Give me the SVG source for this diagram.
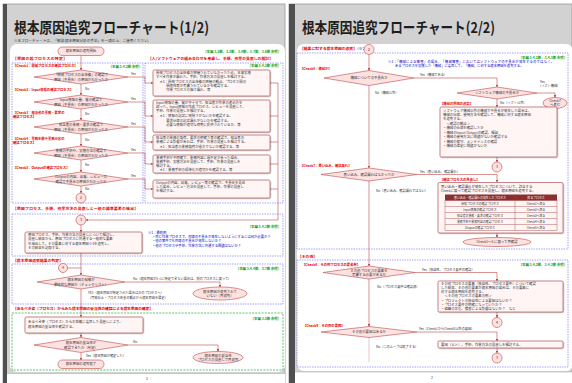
<svg xmlns="http://www.w3.org/2000/svg" width="572" height="383" viewBox="0 0 572 383">
<defs>
<marker id="a" viewBox="0 0 6 6" refX="5.5" refY="3" markerWidth="2.6" markerHeight="2.6" markerUnits="userSpaceOnUse" orient="auto"><path d="M0,0L6,3L0,6z" fill="#c04848"/></marker>
<filter id="sh" x="-5%" y="-5%" width="115%" height="130%"><feDropShadow dx="0.8" dy="0.8" stdDeviation="0.5" flood-color="#000" flood-opacity="0.25"/></filter>
</defs>
<style>
text{font-family:"Noto Sans CJK JP","Noto Sans",sans-serif;}
.ttl{font-size:15px;font-weight:bold;fill:#1e1e1e}
.sub{font-size:3.6px;fill:#333}
.s{font-size:3.4px;fill:#333}
.c{text-anchor:middle}
.red{font-size:3.8px;font-weight:bold;fill:#e60000}
.chk{font-size:3.3px;font-weight:bold;fill:#e60000}
.grn{font-size:3.4px;font-weight:bold;fill:#10a010;text-anchor:end}
.blu{font-size:3.3px;fill:#0000d0}
.lb{font-size:3.2px;fill:#333}
.tb{font-size:2.9px;fill:#333;text-anchor:middle}
.box{fill:none;stroke:#7373ff;stroke-width:0.7;stroke-dasharray:1.4 1.1}
.gbox{fill:none;stroke:#30b040;stroke-width:0.8;stroke-dasharray:2 1.2}
.dia{fill:#fde2e2;stroke:#c04848;stroke-width:0.6}
.rb{fill:#fff5f5;stroke:#a03a3a;stroke-width:0.6;filter:url(#sh)}
.cir{fill:#fde2e2;stroke:#c04848;stroke-width:0.6}
.ln{fill:none;stroke:#c04848;stroke-width:0.6}
.ar{marker-end:url(#a)}
.tl{fill:none;stroke:#a03a3a;stroke-width:0.4}
</style>

<!-- page frames -->
<rect x="0" y="0" width="572" height="383" fill="#ffffff"/>
<g id="page1">
<rect x="3" y="4" width="282" height="379" fill="#d2d2d2" stroke="#9a9a9a" stroke-width="0.8"/>
<rect x="3" y="4" width="4" height="379" fill="#505050"/>
<rect x="10" y="44" width="275" height="328" rx="7" fill="#ffffff"/>
<rect x="7" y="373.5" width="278" height="9.5" fill="#ffffff"/>
<line x1="7" y1="373.5" x2="285" y2="373.5" stroke="#b0b0b0" stroke-width="0.6"/>
<text x="14" y="33" class="ttl" textLength="195" lengthAdjust="spacingAndGlyphs">根本原因追究フローチャート(1/2)</text>
<text x="14" y="42" class="sub">※本フローチャートは、「解説 根本原因分析の手法」を一読の上、ご使用ください。</text>
<text x="147" y="380" class="sub c">1</text>
</g>
<g id="page2">
<rect x="289" y="4" width="283" height="379" fill="#d2d2d2" stroke="#9a9a9a" stroke-width="0.8"/>
<rect x="289" y="4" width="6" height="379" fill="#505050"/>
<rect x="297" y="44" width="276" height="327" rx="7" fill="#ffffff"/>
<rect x="295" y="372" width="277" height="11" fill="#ffffff"/>
<line x1="295" y1="372" x2="572" y2="372" stroke="#b0b0b0" stroke-width="0.6"/>
<text x="302" y="33" class="ttl" textLength="193" lengthAdjust="spacingAndGlyphs">根本原因追究フローチャート(2/2)</text>
<text x="432" y="379" class="sub c">2</text>
</g>

<!-- section frames page 1 -->
<g id="sections1">
<text x="279" y="53" class="grn">[本編 3.2節、3.3節、3.4節、3.7節、3.8節 参照]</text>
<text x="13" y="60" class="red" textLength="54">【原因の起プロセスの特定】</text>
<text x="148" y="60" class="red" textLength="125">【人/ソフトウェアの組み合わせを考慮し、手順、作業の見直しの検討】</text>
<rect x="12" y="63" width="131" height="140" class="box"/>
<rect x="145" y="63" width="138" height="140" class="box"/>
<text x="140" y="68" class="grn">[本編 3.4.2節 参照]</text>
<text x="279" y="67" class="grn">[本編 3.4.2節 参照]</text>
<text x="13" y="209.5" class="red" textLength="125">【原因プロセス、手順、作業方法の見直しと一般の標準要素の抽出】</text>
<rect x="12" y="214" width="271" height="42" class="box"/>
<text x="279" y="228" class="grn">[本編 3.4.3節 参照]</text>
<text x="13" y="261.5" class="red" textLength="50">【根本原因追究結果の判定】</text>
<rect x="12" y="264" width="271" height="40" class="box"/>
<text x="279" y="269.5" class="grn">[本編 3.4.4節、3.7節 参照]</text>
<text x="13" y="310" class="red" textLength="140">【あるべき姿（プロセス）からみた根本原因の妥当性の確認による根本原因の確定】</text>
<rect x="12" y="313" width="271" height="57" class="gbox"/>
<text x="279" y="320" class="grn">[本編 3.5節 参照]</text>
</g>

<!-- connectors -->
<g id="connectors">
<path class="ln ar" d="M81,55.5V70"/>
<path class="ln ar" d="M81,84V95"/>
<path class="ln ar" d="M81,109V120"/>
<path class="ln ar" d="M81,134V146"/>
<path class="ln ar" d="M81,160V172"/>
<path class="ln ar" d="M81,186V193"/>
<path class="ln ar" d="M128,77H145V83H153"/>
<path class="ln ar" d="M128,102H145V116H153"/>
<path class="ln ar" d="M128,127H145V142H153"/>
<path class="ln ar" d="M128,153H145V164H153"/>
<path class="ln ar" d="M128,179H145V189H153"/>
<path class="ln" d="M270,83H278M270,116H278M270,142H278M270,164H278M270,189H278"/>
<path class="ln ar" d="M278,83V220H86"/>
<path class="ln ar" d="M81,225V232"/>
<path class="ln ar" d="M81,253V275"/>
<path class="ln" d="M67.5,268H81"/>
<path class="ln ar" d="M125,282H220V287"/>
<path class="ln ar" d="M81,289V317"/>
<path class="ln ar" d="M81,333V337.5"/>
<path class="ln ar" d="M128,345H218V351.5"/>
<path class="ln ar" d="M81,352.5V360"/>
<!-- page 2 -->
<path class="ln ar" d="M369,54.5V70.5"/>
<path class="ln ar" d="M414,78H497V87"/>
<path class="ln ar" d="M537,93H555V97.5"/>
<path class="ln ar" d="M497,99V107"/>
<path class="ln ar" d="M497,157V162"/>
<path class="ln ar" d="M369,85.5V168"/>
<path class="ln ar" d="M417,174.5H497V182"/>
<path class="ln ar" d="M497,233V237.5"/>
<path class="ln ar" d="M369,181V266"/>
<path class="ln ar" d="M415,272.5H497V281"/>
<path class="ln ar" d="M497,312V317.5"/>
<path class="ln ar" d="M369,279V326.5"/>
<path class="ln ar" d="M417,332H497V341"/>
<path class="ln ar" d="M497,348V353"/>
<path class="ln" d="M369,337.5V362" stroke-dasharray="1 1"/>
</g>

<!-- connector labels page 1 -->
<g id="labels1">
<text x="131" y="75" class="lb">Yes</text>
<text x="131" y="100" class="lb">Yes</text>
<text x="131" y="125" class="lb">Yes</text>
<text x="131" y="151" class="lb">Yes</text>
<text x="131" y="177" class="lb">Yes</text>
<text x="85" y="90" class="lb">No</text>
<text x="85" y="115" class="lb">No</text>
<text x="85" y="141" class="lb">No</text>
<text x="85" y="166" class="lb">No</text>
<text x="85" y="190" class="lb">No</text>
<text x="133" y="279.5" class="lb">No（根本原因が1つに特定できない場合は、前のプロセスに戻って）</text>
<text x="88" y="294" class="lb">YES（根本原因が特定された場合は次のプロセスへ）</text>
<text x="88" y="298.5" class="lb">（再発防止・プロセス改善の観点から根本原因を選定）</text>
<text x="133" y="343" class="lb">No</text>
<text x="86" y="357" class="lb">Yes（根本原因が確定した）</text>
</g>

<!-- page 1 nodes -->
<g id="start"><rect x="58" y="47" width="46" height="8.5" rx="4.2" class="cir"/><text x="81" y="52.4" class="s c">根本原因の追究開始</text></g>

<g id="check1"><text x="13" y="67" class="chk">【Check1：開発プロセスの確認プロセス】</text>
<polygon points="34,77 81,70 128,77 81,84" class="dia"/><text x="81" y="76.3" class="s c">「開発プロセスの全体像」の確認で</text><text x="81" y="80.5" class="s c">原因（不具合）の原因がわかったか</text></g>

<g id="check2"><text x="13" y="91" class="chk">【Check2：Input情報の確認プロセス】</text>
<polygon points="34,102 81,95 128,102 81,109" class="dia"/><text x="81" y="101.3" class="s c">Input情報の量、質の確認で</text><text x="81" y="105.5" class="s c">原因（不具合）の原因がわかったか</text></g>

<g id="check3"><text x="13" y="114" class="chk">【Check3：担当者の業務・要求の</text><text x="13" y="118" class="chk">確認プロセス】</text>
<polygon points="34,127 81,120 128,127 81,134" class="dia"/><text x="81" y="126.3" class="s c">担当者の業務・要求の確認で</text><text x="81" y="130.5" class="s c">原因（不具合）の原因がわかったか</text></g>

<g id="check4"><text x="13" y="140" class="chk">【Check4：業務手順や業務内容の</text><text x="13" y="144" class="chk">確認プロセス】</text>
<polygon points="34,153 81,146 128,153 81,160" class="dia"/><text x="81" y="152.3" class="s c">業務の手順や、実施方法の確認で</text><text x="81" y="156.5" class="s c">原因（不具合）の原因がわかったか</text></g>

<g id="check5"><text x="13" y="169" class="chk">【Check5：Outputの確認プロセス】</text>
<polygon points="34,179 81,172 128,179 81,186" class="dia"/><text x="81" y="178.3" class="s c">Outputの内容、品質、レビューの</text><text x="81" y="182.5" class="s c">確認で不具合の原因がわかったか</text></g>

<g id="conn2a"><circle cx="81" cy="198" r="5" class="cir"/><text x="81" y="199.4" class="s c">2</text></g>

<g id="rect1"><rect x="153" y="70" width="117" height="26" rx="1.5" class="rb"/>
<text x="156" y="74" class="s">開発プロセスの全体像が把握されていなかったため、本来実施</text>
<text x="156" y="78" class="s">すべき作業が漏れた。手順、作業方法の見直しを検討する。</text>
<text x="156" y="83" class="s">　＊1：開発プロセスの全体像の把握の観点、プロセス間の</text>
<text x="156" y="87" class="s">　　　関連性等が考慮されているかを確認する。</text>
<text x="156" y="91" class="s">　　　作業プロセスの抜け漏れ、等</text></g>

<g id="rect2"><rect x="153" y="100" width="117" height="32" rx="1.5" class="rb"/>
<text x="156" y="104" class="s">Input情報の量、質が不十分で、担当者が作業の進め方を</text>
<text x="156" y="108" class="s">誤った。Input情報の作成プロセス、レビューを見直して、</text>
<text x="156" y="112" class="s">手順、作業の見直しを検討する。</text>
<text x="156" y="117" class="s">　＊1：情報の記述に曖昧さがないかを確認する。</text>
<text x="156" y="121.5" class="s">　　　要求仕様の記述漏れがないかを確認する。</text>
<text x="156" y="126" class="s">　　　必要な情報が適切な時期に提供されているか、等</text></g>

<g id="rect3"><rect x="153" y="135" width="117" height="15" rx="1.5" class="rb"/>
<text x="156" y="139" class="s">担当者の業務の負荷、要求の明確さ等の確認で、担当者の</text>
<text x="156" y="143" class="s">業務による影響があれば、手順、作業の見直しを検討する。</text>
<text x="156" y="147.5" class="s">　＊1：担当者の業務負荷が過大でないか確認する、等</text></g>

<g id="rect4"><rect x="153" y="155" width="117" height="18" rx="1.5" class="rb"/>
<text x="156" y="159" class="s">業務手順が不明確で、業務内容に過不足があった場合、</text>
<text x="156" y="163" class="s">業務手順、実施方法を見直して、手順、作業の見直しを</text>
<text x="156" y="167" class="s">検討する。</text>
<text x="156" y="171" class="s">　＊1：業務手順の標準化が適切かを確認する、等</text></g>

<g id="rect5"><rect x="153" y="180" width="117" height="18" rx="1.5" class="rb"/>
<text x="156" y="184" class="s">Outputの内容、品質、レビュー等の確認で、不具合を見逃</text>
<text x="156" y="188" class="s">した場合、レビュー方法を見直して、手順、作業の見直し</text>
<text x="156" y="192" class="s">を検討する。</text></g>

<g id="conn3a"><circle cx="81" cy="220" r="5" class="cir"/><text x="81" y="221.4" class="s c">3</text></g>

<g id="review"><rect x="25" y="232" width="117" height="21" rx="1.5" class="rb"/>
<text x="28" y="236" class="s">原因プロセス、手順、作業方法の見直しについて検討し、</text>
<text x="28" y="240.3" class="s">見直し結果から、原因プロセスに共通する一般的な要素</text>
<text x="28" y="244.6" class="s">を抽出して、その要素に対する根本原因<tspan fill="#0000d0">※1</tspan>を追究し、</text>
<text x="28" y="249" class="s">その結果を記録する。</text></g>

<g id="note1"><text x="148" y="233.5" class="blu">※1：最終例</text>
<text x="152" y="238" class="blu">・同じ作業プロセスで、同様の不具合が発生しないようにするには何が必要か？</text>
<text x="152" y="242.3" class="blu">・他の案件でも同様の不具合が発生しないか？</text>
<text x="152" y="246.6" class="blu">・他のプロセスや手順、作業方法に共通する問題はないか？</text></g>

<g id="conn4a"><circle cx="63" cy="268" r="4.5" class="cir"/><text x="63" y="269.3" class="s c">4</text></g>

<g id="judge"><polygon points="37,282 81,275 125,282 81,289" class="dia"/><text x="81" y="281.3" class="s c">根本原因の候補が</text><text x="81" y="285.5" class="s c">最終的な原因か（チェックリスト）</text></g>

<g id="notfound"><ellipse cx="220" cy="293.5" rx="27" ry="6.5" class="cir"/><text x="220" y="292.5" class="s c">根本原因が追究されて</text><text x="220" y="296.7" class="s c">いない（再追究）</text></g>

<g id="ideal"><rect x="25" y="317" width="118" height="16" rx="1.5" class="rb"/>
<text x="28" y="323" class="s">あるべき姿（プロセス）からの乖離に着目した見直しにより、</text>
<text x="28" y="327.5" class="s">根本原因の妥当性を確認する。</text></g>

<g id="valid"><polygon points="34,345 81,337.5 128,345 81,352.5" class="dia"/><text x="81" y="344.3" class="s c">根本原因の妥当性が</text><text x="81" y="348.5" class="s c">確認できたか（判定）</text></g>

<g id="retry"><ellipse cx="218" cy="357.5" rx="25" ry="6" class="cir"/><text x="218" y="356.5" class="s c">根本原因の妥当性</text><text x="218" y="360.7" class="s c">プロセスの見直しで再追究</text></g>

<g id="end"><rect x="58" y="360" width="46" height="8.5" rx="4.2" class="cir"/><text x="81" y="365.4" class="s c">根本原因の追究終了</text></g>

<!-- page 2 sections -->
<g id="sections2">
<text x="300" y="49.5" class="red">【結果に対する根本原因の追究】<tspan fill="#0000d0" font-weight="normal">（※2）</tspan></text>
<rect x="297" y="53" width="271" height="196" class="box"/>
<text x="565" y="59" class="grn">[本編 3.4.2節、3.4.3節 参照]</text>
<text x="388" y="62.5" class="blu" textLength="166">※2：「機械による障害」の場合、「機械障害」においてはソフトウェアの不具合が発生するのではなく、</text>
<text x="395" y="67" class="blu">あるプロセスを実施した「機械」に着目して、「機械」に対する根本原因を追究する。</text>
<text x="298" y="257.5" class="red">【その他】</text>
<rect x="297" y="260" width="271" height="107" class="box"/>
<text x="565" y="266" class="grn">[本編 3.4.2節、3.4.3節 参照]</text>
</g>

<g id="labels2">
<text x="420" y="76" class="lb">Yes（機械である）</text>
<text x="375" y="93.5" class="lb">No（機械以外）</text>
<text x="540" y="83" class="lb">Yes</text>
<text x="538" y="87.3" class="lb">（ソフト機械）</text>
<text x="500" y="104" class="lb">No（ソフト以外）</text>
<text x="420" y="172.5" class="lb">Yes（思い込み、確認漏れ）</text>
<text x="376" y="191.5" class="lb">No（思い込み、確認漏れではない）</text>
<text x="422" y="270.5" class="lb">Yes（独自性、プロセス要件の確認）</text>
<text x="377" y="288" class="lb">No（プロセス要件は確認済）</text>
<text x="419" y="330" class="lb">Yes（Check1からCheck8以外の要因）</text>
<text x="376" y="348" class="lb">No（このループは終了する）</text>
</g>

<g id="conn2b"><circle cx="369" cy="49.5" r="5" class="cir"/><text x="369" y="50.9" class="s c">2</text></g>

<g id="check6"><text x="300" y="69.5" class="chk">【Check6：機械か】</text>
<polygon points="324,78 369,70.5 414,78 369,85.5" class="dia"/><text x="369" y="79.2" class="s c">機械についての不具合か</text></g>

<g id="check6b"><polygon points="457,93 497,87 537,93 497,99" class="dia"/><text x="497" y="94.2" class="s c">ソフトウェア機械の不具合か</text></g>

<g id="toCheck7"><ellipse cx="555" cy="103" rx="12" ry="5.5" class="cir"/><text x="555" y="102" class="s c">Check7</text><text x="555" y="106" class="s c">へ進む</text></g>

<g id="machine"><text x="440" y="104.5" class="chk">【機械の原因の追究】</text>
<rect x="440" y="107" width="117" height="50" rx="1.5" class="rb"/>
<text x="443" y="111.5" class="s">ソフトウェア機械以外の機械で不具合が発生した場合は、</text>
<text x="443" y="115.5" class="s">機械の仕様、使用方法を確認して、機械に対する根本原因</text>
<text x="443" y="119.5" class="s">を追究する。</text>
<text x="443" y="124.5" class="s">　＜確認の観点＞</text>
<text x="443" y="129" class="s">・機械の仕様を確認したか</text>
<text x="443" y="133.5" class="s">・機械のInput/Outputの確認、検証</text>
<text x="443" y="138" class="s">・機械の使用方法に問題がないか確認する</text>
<text x="443" y="142.5" class="s">・機械の保守、メンテナンスの確認</text>
<text x="443" y="147" class="s">・機械の選定に問題がないか</text></g>

<g id="conn3b"><circle cx="497" cy="167" r="5" class="cir"/><text x="497" y="168.4" class="s c">3</text></g>

<g id="check7"><text x="300" y="166.5" class="chk">【Check7：思い込み、確認漏れ】</text>
<polygon points="321,174.5 369,168 417,174.5 369,181" class="dia"/><text x="369" y="175.7" class="s c">思い込み、確認漏れはなかったか</text></g>

<g id="confirm"><text x="440" y="181" class="chk">【確認プロセスの見直し】</text>
<rect x="438" y="182.5" width="125" height="50.5" rx="1.5" class="rb"/>
<text x="441" y="187.5" class="s">思い込み・確認漏れが発生したプロセスについて、該当する</text>
<text x="441" y="191.5" class="s">Checkに戻って確認プロセスを見直し、根本原因を追究する。</text>
<rect x="445" y="194.5" width="112" height="6" fill="#8b2e2e"/>
<rect x="445" y="200.5" width="112" height="30" fill="#ffffff" class="tl"/>
<path class="tl" d="M445,206.5H557M445,212.5H557M445,218.5H557M445,224.5H557M515,194.5V230.5"/>
<text x="480" y="198.6" class="tb" fill="#fff" style="fill:#fff">思い込み・確認漏れの発生したプロセス</text>
<text x="536" y="198.6" class="tb" style="fill:#fff">戻るプロセス</text>
<text x="480" y="204.6" class="tb">開発プロセスの確認プロセス</text><text x="536" y="204.6" class="tb">Check1へ戻る</text>
<text x="480" y="210.6" class="tb">Input情報の確認プロセス</text><text x="536" y="210.6" class="tb">Check2へ戻る</text>
<text x="480" y="216.6" class="tb">担当者の業務・要求の確認プロセス</text><text x="536" y="216.6" class="tb">Check3へ戻る</text>
<text x="480" y="222.6" class="tb">業務手順や業務内容の確認プロセス</text><text x="536" y="222.6" class="tb">Check4へ戻る</text>
<text x="480" y="228.6" class="tb">Outputの確認プロセス</text><text x="536" y="228.6" class="tb">Check5へ戻る</text></g>

<g id="back"><ellipse cx="497" cy="242" rx="34" ry="4.5" class="cir"/><text x="497" y="243.2" class="s c">Check1～5 に戻って再確認</text></g>

<g id="check8"><text x="302" y="266" class="chk">【Check8：その他プロセスの要素有】</text>
<polygon points="323,272.5 369,266 415,272.5 369,279" class="dia"/><text x="369" y="271.5" class="s c">その他プロセスの要素を</text><text x="369" y="275.6" class="s c">考慮する必要があるか</text></g>

<g id="other"><rect x="438" y="281" width="125" height="31" rx="1.5" class="rb"/>
<text x="441" y="285" class="s">その他プロセスの要素（独自性、プロセス要件）について確認</text>
<text x="441" y="289" class="s">した結果、その他の要素が根本原因の場合は、その要素に</text>
<text x="441" y="293" class="s">対する根本原因を追究する。</text>
<text x="441" y="297.3" class="s">　＜その他プロセスの要素の例＞</text>
<text x="441" y="301.5" class="s">・プロジェクトの独自性による要因はないか？</text>
<text x="441" y="305.5" class="s">・プロセス要件が明確になっていたか？</text>
<text x="441" y="309.5" class="s">・組織の文化、慣習による影響はないか？　など</text></g>

<g id="conn4b"><circle cx="497" cy="322.5" r="5" class="cir"/><text x="497" y="323.9" class="s c">4</text></g>

<g id="check9"><text x="303" y="326.5" class="chk">【Check9：その他の要因】</text>
<polygon points="321,332 369,326.5 417,332 369,337.5" class="dia"/><text x="369" y="333.2" class="s c">その他の要因はあるか</text></g>

<g id="factor"><rect x="438" y="341" width="125" height="7" rx="1.2" class="rb"/><text x="441" y="345.7" class="s">要因（ヒト）、手順、作業方法の見直しを検討する。</text></g>

<g id="conn3c"><circle cx="497" cy="358" r="5" class="cir"/><text x="497" y="359.4" class="s c">3</text></g>
</svg>
